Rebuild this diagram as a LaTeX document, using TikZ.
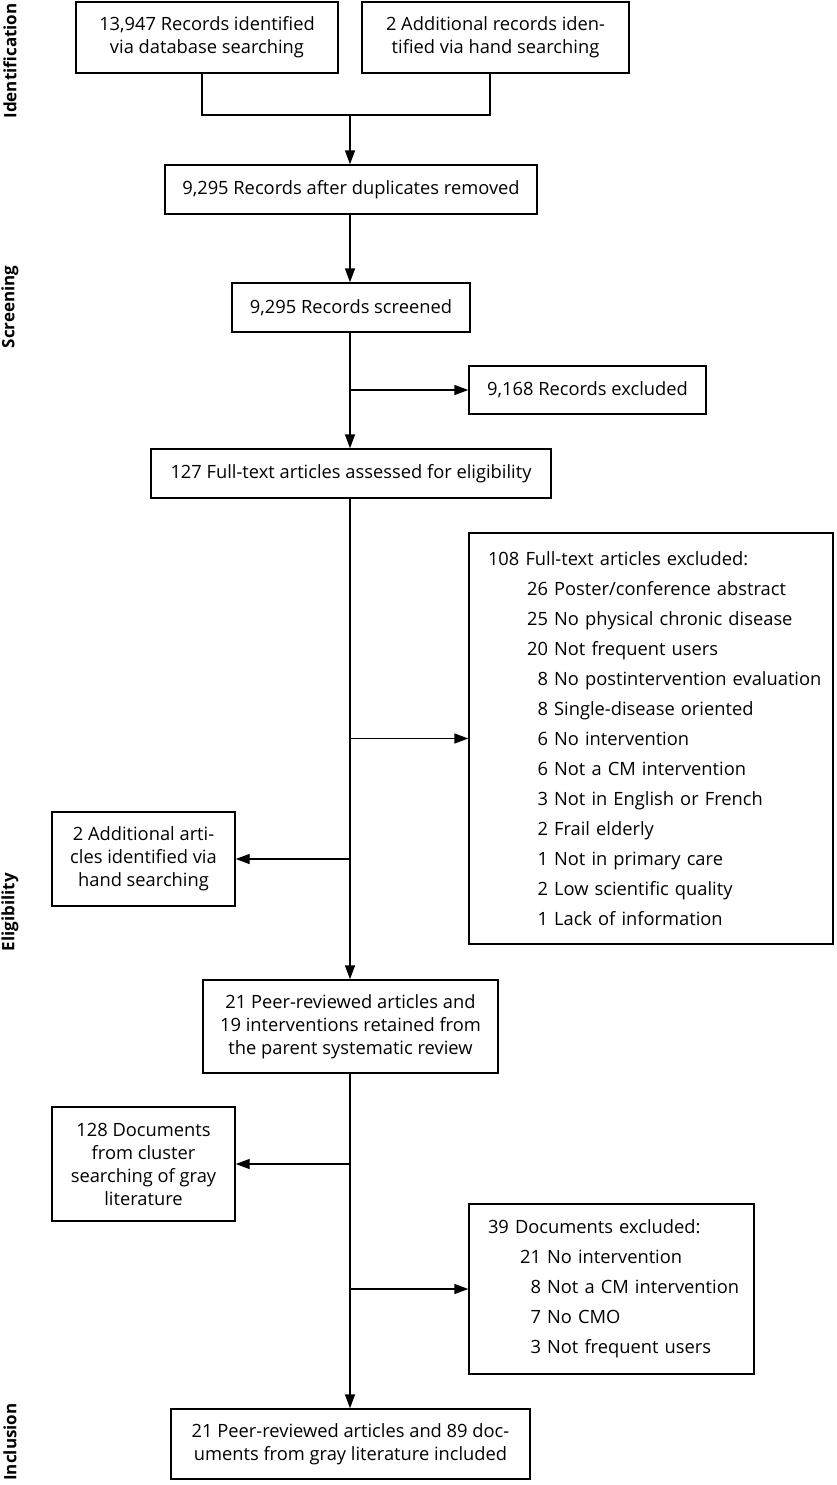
\documentclass[tikz,border=0pt]{standalone}
\usepackage{fontspec}
\setmainfont{Open Sans}
\usetikzlibrary{arrows.meta, calc}

\newcommand{\exitem}[3][60pt]{\mbox{\makebox[#1][r]{#2}~#3}}

\tikzset{
	box/.style={draw, line width=1.4pt, align=center, inner sep=4pt,
		font=\fontsize{18.3}{23}\selectfont},
	listbox/.style={draw, line width=1.4pt, align=left, inner sep=0pt,
		font=\fontsize{18.3}{30}\selectfont},
	stage/.style={rotate=90, font=\fontsize{17}{20}\selectfont\bfseries},
	link/.style={line width=1.4pt},
	arr/.style={link, -{Triangle[length=14pt, width=10pt]}}
}

\begin{document}
\begin{tikzpicture}[x=1pt, y=-1pt]
		\useasboundingbox (0,0) rectangle (836,1485);

		% stage labels
		\node[stage] (sid) at (10,61) {Identification};
		\node[stage] (sscr) at (10,307) {Screening};
		\node[stage] (selig) at (10,912) {Eligibility};
		\node[stage] (sinc) at (10,1442) {Inclusion};

		% identification
		\node[box, minimum width=262, minimum height=71] (rec) at (207,37.5) {13,947 Records identified\\via database searching};
		\node[box, minimum width=267, minimum height=71] (hand) at (495.5,37.5) {2 Additional records iden-\\tified via hand searching};
		\node[box, minimum width=372, minimum height=49] (dup) at (351,189.5) {9,295 Records after duplicates removed};

		\coordinate (merge) at (350,115);
		\draw[link] ([xshift=-5]rec.south) |- (merge) -| ([xshift=-5.5]hand.south);
		\draw[arr] (merge) -- (merge |- dup.north);

		% screening
		\node[box, minimum width=238, minimum height=49] (scr) at (351,307.5) {9,295 Records screened};
		\node[box, minimum width=237, minimum height=48] (exc) at (587.5,390) {9,168 Records excluded};
		\node[box, minimum width=400, minimum height=49] (full) at (351,473.5) {127 Full-text articles assessed for eligibility};

		\draw[arr] (merge |- dup.south) -- (merge |- scr.north);
		\draw[arr] (merge |- scr.south) -- (merge |- full.north);
		\coordinate (b1) at (merge |- exc.west);
		\draw[arr] (b1) -- (exc.west);

		% eligibility
		\node[listbox, minimum width=364, minimum height=411, text width=326] (fexc) at (651,738.5) {%
			108 Full-text articles excluded:\\
			\exitem{26}{Poster/conference abstract}\\
			\exitem{25}{No physical chronic disease}\\
			\exitem{20}{Not frequent users}\\
			\exitem{8}{No postintervention evaluation}\\
			\exitem{8}{Single-disease oriented}\\
			\exitem{6}{No intervention}\\
			\exitem{6}{Not a CM intervention}\\
			\exitem{3}{Not in English or French}\\
			\exitem{2}{Frail elderly}\\
			\exitem{1}{Not in primary care}\\
			\exitem{2}{Low scientific quality}\\
			\exitem{1}{Lack of information}};
		\node[box, minimum width=183, minimum height=94] (addart) at (143.5,859) {2 Additional arti-\\cles identified via\\hand searching};
		\node[box, minimum width=295, minimum height=93] (peer) at (350.5,1026.5) {21 Peer-reviewed articles and\\19 interventions retained from\\the parent systematic review};

		\draw[arr] (merge |- full.south) -- (merge |- peer.north);
		\coordinate (b2) at (merge |- fexc.west);
		\draw[arr] (b2) -- (fexc.west);
		\coordinate (b3) at (merge |- addart.east);
		\draw[arr] (b3) -- (addart.east);

		% inclusion
		\node[box, minimum width=183, minimum height=114] (gray) at (143.5,1164) {128 Documents\\from cluster\\searching of gray\\literature};
		\node[listbox, minimum width=285, minimum height=170, text width=247] (dexc) at (611.5,1289) {%
			39 Documents excluded:\\
			\exitem[53pt]{21}{No intervention}\\
			\exitem[53pt]{8}{Not a CM intervention}\\
			\exitem[53pt]{7}{No CMO}\\
			\exitem[53pt]{3}{Not frequent users}};
		\node[box, minimum width=359, minimum height=70] (incl) at (350.5,1444) {21 Peer-reviewed articles and 89 doc-\\uments from gray literature included};

		\draw[arr] (merge |- peer.south) -- (merge |- incl.north);
		\coordinate (b4) at (merge |- gray.east);
		\draw[arr] (b4) -- (gray.east);
		\coordinate (b5) at (merge |- dexc.west);
		\draw[arr] (b5) -- (dexc.west);
	\end{tikzpicture}
\end{document}
